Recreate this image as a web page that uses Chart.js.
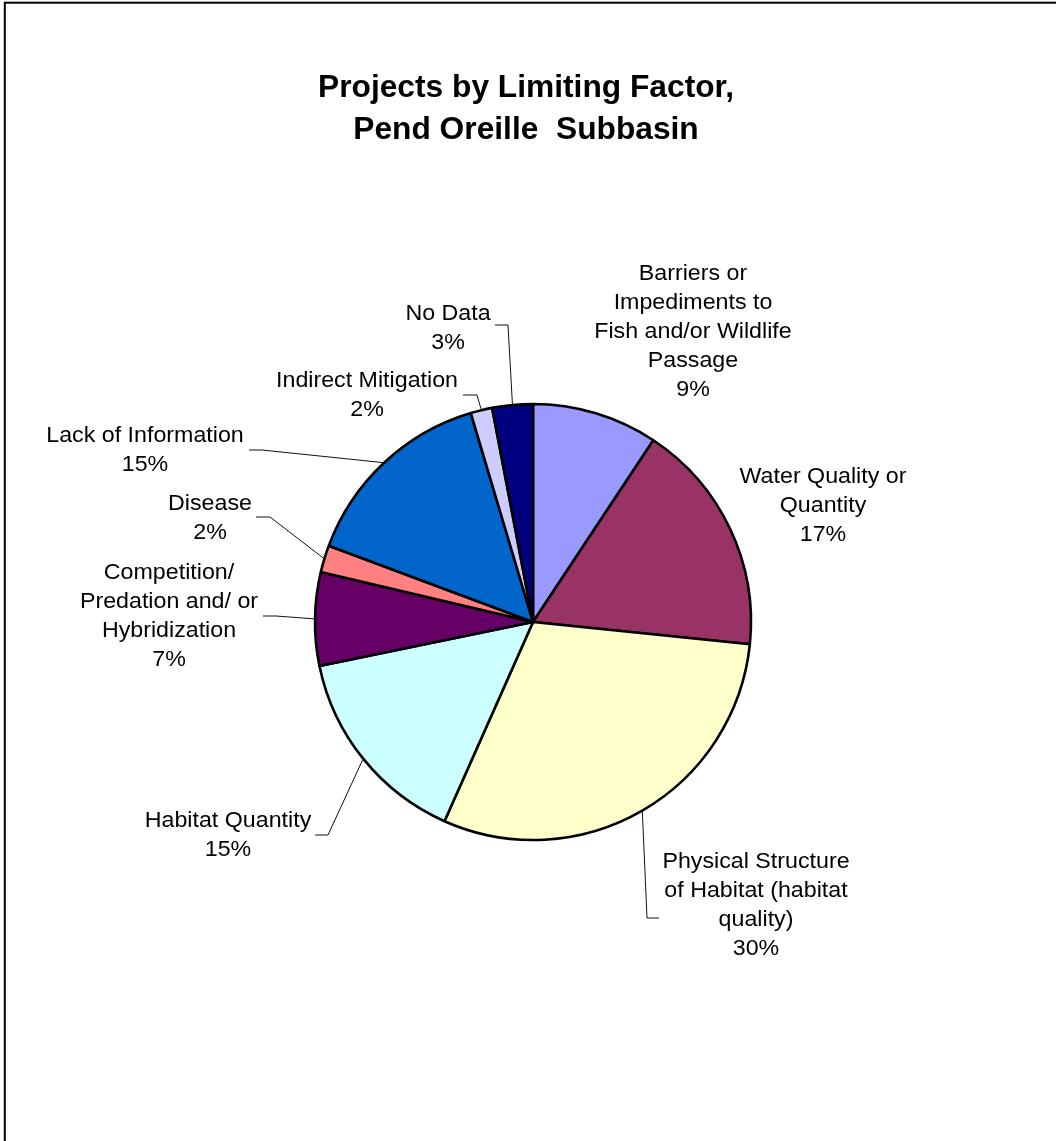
<!DOCTYPE html>
<html><head><meta charset="utf-8">
<script src="https://cdn.jsdelivr.net/npm/chart.js@4/dist/chart.umd.min.js"></script>
<style>html,body{margin:0;padding:0;background:#fff;overflow:hidden}canvas{display:block}</style>
</head><body>
<canvas id="c" width="1056" height="1141"></canvas>
<script>
const titleLines = ["Projects by Limiting Factor,", "Pend Oreille  Subbasin"];
const categories = [
  ["Barriers or", "Impediments to", "Fish and/or Wildlife", "Passage"],
  ["Water Quality or", "Quantity"],
  ["Physical Structure", "of Habitat (habitat", "quality)"],
  ["Habitat Quantity"],
  ["Competition/", "Predation and/ or", "Hybridization"],
  ["Disease"],
  ["Lack of Information"],
  ["Indirect Mitigation"],
  ["No Data"]
];
const shares = [9.3, 17.3, 30.0, 15.1, 6.9, 2.0, 14.7, 1.6, 3.0];
const sliceColors = ["#9999FF", "#993366", "#FFFFCC", "#CCFFFF", "#660066", "#FF8080", "#0066CC", "#CCCCFF", "#000080"];

// text placement relative to the pie centre (label centre x, first baseline y),
// leader stub [x start, x elbow, y] relative to the pie centre
const labelLayout = [
  { x: 160, y: -342, leader: null },
  { x: 290, y: -139, leader: null },
  { x: 223, y: 246, leader: [126, 114, 296] },
  { x: -305, y: 205, leader: [-218, -205, 213] },
  { x: -364, y: -43, leader: [-270, -257, -6] },
  { x: -323, y: -112, leader: [-277, -263, -105] },
  { x: -388, y: -180, leader: [-284, -271, -172] },
  { x: -166, y: -235, leader: [-70, -56, -227] },
  { x: -85, y: -302, leader: [-38, -25, -297] }
];

const FONT = "'Liberation Sans', Arial, sans-serif";
const LINE_H = 28.9;

function scaledText(ctx, str, cx, by, sx) {
  ctx.save();
  ctx.translate(cx, by);
  ctx.scale(sx, 1);
  ctx.fillText(str, 0, 0);
  ctx.restore();
}

const decorPlugin = {
  id: 'decor',
  beforeDraw(chart) {
    const ctx = chart.ctx;
    ctx.save();
    ctx.fillStyle = '#fff';
    ctx.fillRect(0, 0, chart.width, chart.height);
    ctx.strokeStyle = '#000';
    ctx.lineWidth = 2;
    ctx.strokeRect(4.8, 2.7, 1400, 1400);
    // title
    ctx.fillStyle = '#000';
    ctx.textAlign = 'center';
    ctx.textBaseline = 'alphabetic';
    ctx.font = "bold 30.5px " + FONT;
    titleLines.forEach((t, i) => scaledText(ctx, t, 526, 97 + i * 42, 1.04));
    ctx.restore();
  },
  afterDatasetsDraw(chart) {
    const ctx = chart.ctx;
    const meta = chart.getDatasetMeta(0);
    const total = shares.reduce((a, b) => a + b, 0);
    ctx.save();
    ctx.fillStyle = '#000';
    ctx.strokeStyle = '#111';
    ctx.lineWidth = 1;
    ctx.textAlign = 'center';
    ctx.textBaseline = 'alphabetic';
    ctx.font = "21.5px " + FONT;
    meta.data.forEach((arc, i) => {
      const p = arc.getProps(['x', 'y', 'startAngle', 'endAngle', 'outerRadius'], true);
      const cx = p.x, cy = p.y;
      const L = labelLayout[i];
      const lines = categories[i].concat([Math.round(shares[i] / total * 100) + '%']);
      lines.forEach((t, k) => scaledText(ctx, t, cx + L.x, cy + L.y + k * LINE_H, 1.08));
      if (L.leader) {
        const mid = (p.startAngle + p.endAngle) / 2;
        const ex = cx + Math.cos(mid) * p.outerRadius;
        const ey = cy + Math.sin(mid) * p.outerRadius;
        ctx.beginPath();
        ctx.moveTo(cx + L.leader[0], cy + L.leader[2]);
        ctx.lineTo(cx + L.leader[1], cy + L.leader[2]);
        ctx.lineTo(ex, ey);
        ctx.stroke();
      }
    });
    ctx.restore();
  }
};

new Chart(document.getElementById('c'), {
  type: 'pie',
  data: {
    labels: categories,
    datasets: [{
      data: shares,
      backgroundColor: sliceColors,
      borderColor: '#000',
      borderWidth: 2.6
    }]
  },
  options: {
    responsive: false,
    devicePixelRatio: 1,
    animation: false,
    radius: 218,
    rotation: 0,
    layout: { padding: { left: 315, right: 305, top: 404, bottom: 301 } },
    plugins: {
      legend: { display: false },
      tooltip: { enabled: false },
      title: { display: false }
    }
  },
  plugins: [decorPlugin]
});
</script>
</body></html>
